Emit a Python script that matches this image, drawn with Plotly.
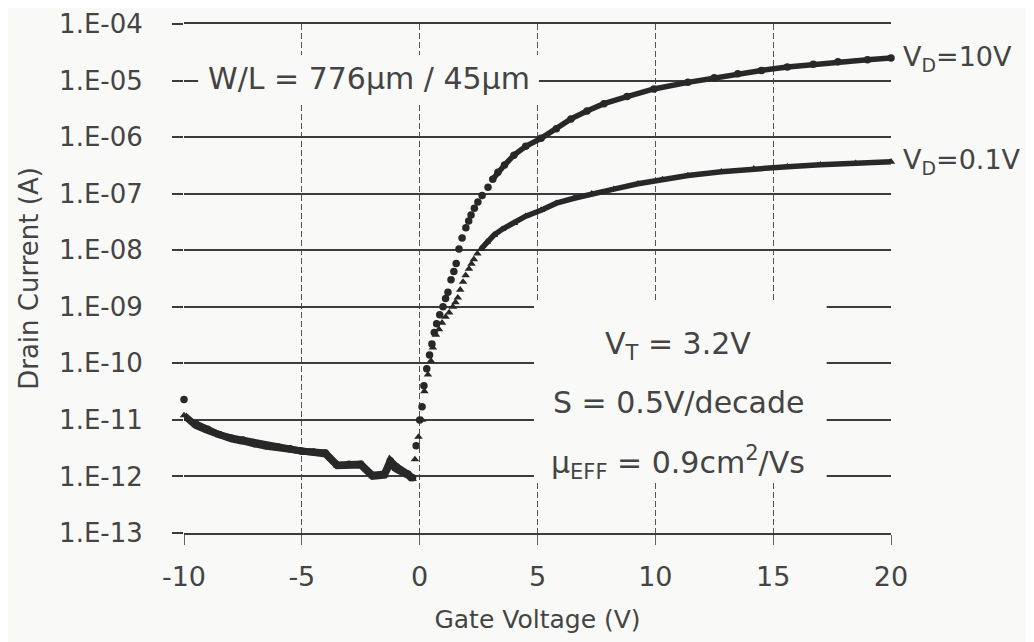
import numpy as np
import plotly.graph_objects as go

# ---------------- data ----------------
# V_D = 10 V  (circles)
vg_10 = [-10.0, -9.5, -9.0, -8.5, -8.0, -7.5, -7.0, -6.5, -6.0, -5.5, -5.0, -4.5, -4.0,
         -3.5, -3.0, -2.5, -2.0, -1.5, -1.25, -1.0, -0.5, -0.3,
         -0.15, 0.0, 0.1, 0.18, 0.3, 0.42, 0.52, 0.62, 0.72, 0.85, 0.99, 1.1, 1.2, 1.33,
         1.45, 1.55, 1.67, 1.8, 1.96, 2.08, 2.18, 2.32, 2.47, 2.65, 2.9, 3.1, 3.32, 3.6,
         4.0, 4.5, 5.15, 5.8, 6.42, 7.1, 7.82, 8.8, 9.94, 11.38, 12.5, 13.5, 14.5, 15.6,
         16.7, 17.75, 19.0, 20.0]
id_10 = [2.3e-11, 8.5e-12, 6.8e-12, 5.5e-12, 4.8e-12, 4.4e-12, 3.8e-12, 3.5e-12, 3.3e-12,
         3.1e-12, 2.8e-12, 2.7e-12, 2.6e-12,
         1.6e-12, 1.65e-12, 1.65e-12, 1.05e-12, 1.1e-12, 1.9e-12, 1.5e-12, 1.1e-12, 9.5e-13,
         3.5e-12, 1.0e-11, 1.7e-11, 4.0e-11, 8.0e-11, 1.4e-10, 2.2e-10, 3.5e-10, 5.0e-10,
         7.2e-10, 1.0e-9, 1.4e-9, 1.8e-9, 3.0e-9,
         4.2e-9, 5.8e-9, 1.05e-8, 1.65e-8, 2.5e-8, 3.3e-8, 4.2e-8, 5.5e-8, 7.1e-8, 9.3e-8,
         1.3e-7, 1.8e-7, 2.4e-7, 3.2e-7,
         4.8e-7, 6.9e-7, 9.5e-7, 1.4e-6, 2.1e-6, 2.9e-6, 3.9e-6, 5.2e-6, 7.1e-6, 9.3e-6,
         1.12e-5, 1.32e-5, 1.51e-5, 1.74e-5, 1.95e-5, 2.14e-5, 2.34e-5, 2.5e-5]

# V_D = 0.1 V  (triangles)
vg_01 = [-10.0, -9.5, -9.0, -8.5, -8.0, -7.5, -7.0, -6.5, -6.0, -5.5, -5.0, -4.5, -4.0,
         -3.5, -3.0, -2.5, -2.0, -1.5, -1.25, -1.0, -0.5, -0.3,
         -0.2, -0.05, 0.1, 0.2, 0.35, 0.48, 0.56, 0.69, 0.82, 0.95, 1.1, 1.25, 1.41, 1.52,
         1.62, 1.72, 1.84, 1.95, 2.09, 2.2, 2.3, 2.45, 2.6, 2.85, 3.15, 3.5, 4.0, 4.5, 5.15,
         5.8, 6.55, 7.3, 8.24, 9.26, 10.3, 11.38, 12.8, 14.18, 15.6, 17.0, 18.5, 20.0]
id_01 = [1.2e-11, 8.0e-12, 6.5e-12, 5.3e-12, 4.6e-12, 4.2e-12, 3.7e-12, 3.4e-12, 3.2e-12,
         3.0e-12, 2.7e-12, 2.6e-12, 2.5e-12,
         1.55e-12, 1.6e-12, 1.6e-12, 1.0e-12, 1.05e-12, 1.7e-12, 1.35e-12, 1.05e-12, 9.0e-13,
         2.0e-12, 5.0e-12, 1.0e-11, 3.2e-11, 6.3e-11, 1.1e-10, 1.9e-10, 3.2e-10, 4.0e-10,
         5.2e-10, 6.6e-10, 7.9e-10, 1.0e-9, 1.2e-9,
         1.45e-9, 2.0e-9, 2.75e-9, 3.6e-9, 4.7e-9, 5.75e-9, 6.9e-9, 8.7e-9, 1.05e-8,
         1.4e-8, 1.85e-8, 2.35e-8, 3.0e-8, 4.0e-8, 5.1e-8,
         6.8e-8, 8.3e-8, 1.0e-7, 1.2e-7, 1.5e-7, 1.78e-7, 2.1e-7, 2.45e-7, 2.75e-7, 3.0e-7,
         3.25e-7, 3.45e-7, 3.65e-7]

x_ticks = [-10, -5, 0, 5, 10, 15, 20]
x_ticktext = ["-10", "-5", "0", "5", "10", "15", "20"]
y_ticks = [1e-13, 1e-12, 1e-11, 1e-10, 1e-9, 1e-8, 1e-7, 1e-6, 1e-5, 1e-4]
y_ticktext = ["1.E-13", "1.E-12", "1.E-11", "1.E-10", "1.E-09",
              "1.E-08", "1.E-07", "1.E-06", "1.E-05", "1.E-04"]

label_10 = "V<sub>D</sub>=10V"
label_01 = "V<sub>D</sub>=0.1V"
wl_text = "W/L = 776µm / 45µm"
param_lines = ["V<sub>T</sub> = 3.2V", "S = 0.5V/decade",
               "µ<sub>EFF</sub> = 0.9cm<sup>2</sup>/Vs"]

# ---------------- style ----------------
BG = "#f9f9f7"
INK = "#282828"
TXT = "#444444"
FONT = "DejaVu Sans"


def masked(x, y, keep_fn):
    x = np.asarray(x, dtype=float)
    y = np.asarray(y, dtype=float)
    return x, np.where(keep_fn(x), y, np.nan)


fig = go.Figure()

series = [
    (vg_10, id_10, "circle", -9.9, 3.0),
    (vg_01, id_01, "triangle-up", -10.0, 2.6),
]
for xs, ys, sym, lo, hi in series:
    # off-state band (ragged, thick)
    ox, oy = masked(xs, ys, lambda v, lo=lo: (v >= lo) & (v <= -0.25))
    fig.add_trace(go.Scatter(x=ox, y=oy, mode="lines", line=dict(color=INK, width=7),
                             connectgaps=False, cliponaxis=False, showlegend=False,
                             hoverinfo="skip"))
    # on-state dense part
    nx, ny = masked(xs, ys, lambda v, hi=hi: v >= hi)
    fig.add_trace(go.Scatter(x=nx, y=ny, mode="lines", line=dict(color=INK, width=5.5),
                             connectgaps=False, cliponaxis=False, showlegend=False,
                             hoverinfo="skip"))
    fig.add_trace(go.Scatter(x=xs, y=ys, mode="markers",
                             marker=dict(symbol=sym, size=7.5, color=INK),
                             cliponaxis=False, showlegend=False))

# boxes hiding the grid behind the text blocks
fig.add_shape(type="rect", xref="paper", yref="paper", x0=0.020, x1=0.502,
              y0=0.841, y1=0.939, fillcolor=BG, line=dict(width=0), layer="above")
fig.add_shape(type="rect", xref="paper", yref="paper", x0=0.495, x1=0.909,
              y0=0.100, y1=0.458, fillcolor=BG, line=dict(width=0), layer="above")

fig.add_annotation(text=wl_text, xref="paper", yref="paper", x=0.262, y=0.892,
                   xanchor="center", yanchor="middle",
                   showarrow=False, font=dict(family=FONT, size=30, color=TXT))
for txt, yy in zip(param_lines, [0.369, 0.257, 0.139]):
    fig.add_annotation(text=txt, xref="paper", yref="paper", x=0.699, y=yy,
                       xanchor="center", yanchor="middle",
                       showarrow=False, font=dict(family=FONT, size=30, color=TXT))

for lab, xs, ys in [(label_10, vg_10, id_10), (label_01, vg_01, id_01)]:
    fig.add_annotation(text=lab, x=xs[-1], y=np.log10(ys[-1]), xref="x", yref="y",
                       xanchor="left", yanchor="middle", xshift=10, showarrow=False,
                       font=dict(family=FONT, size=27, color=TXT))

fig.update_layout(
    width=1034, height=642,
    margin=dict(l=176, r=151, t=16, b=117),
    paper_bgcolor=BG, plot_bgcolor=BG,
    font=dict(family=FONT, color=TXT),
    xaxis=dict(range=[-10, 20], tickvals=x_ticks, ticktext=x_ticktext,
               showgrid=True, gridcolor="#555555", gridwidth=1, griddash="6px,3px",
               zeroline=False, showline=True, mirror=True, linecolor="#3c3c3c",
               linewidth=2, ticks="outside", ticklen=10, tickwidth=1, tickcolor="#666",
               tickfont=dict(size=27, color=TXT), ticklabelstandoff=9,
               title=dict(text="Gate Voltage (V)", font=dict(size=25, color=TXT),
                          standoff=19),
               automargin=False),
    yaxis=dict(type="log", range=[-13, -4], tickvals=y_ticks, ticktext=y_ticktext,
               showgrid=True, gridcolor="#3c3c3c", gridwidth=2, zeroline=False,
               showline=False, ticks="outside", ticklen=11, tickwidth=2,
               tickcolor="#3c3c3c", tickfont=dict(size=26, color=TXT),
               ticklabelstandoff=24,
               title=dict(text="Drain Current (A)", font=dict(size=26, color=TXT),
                          standoff=12),
               automargin=False),
)

fig.write_html("out.html")
